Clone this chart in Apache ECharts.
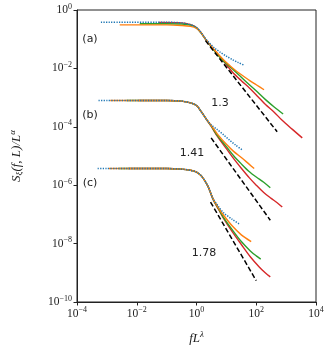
<!DOCTYPE html>
<html>
<head>
<meta charset="utf-8">
<script src="https://cdn.jsdelivr.net/npm/echarts@6/dist/echarts.min.js"></script>
<style>
  html, body { margin: 0; padding: 0; background: #fff; }
  #chart { width: 330px; height: 350px; }
</style>
</head>
<body>
<div id="chart"></div>
<script>
// all values are log10 exponents: [log10(f L^lambda), log10(S / L^alpha)]
const xTicks = [-4, -2, 0, 2, 4]
const yTicks = [-10, -8, -6, -4, -2, 0]

// (a)
const aBlue = [[-3.2, -0.42], [-1, -0.42], [-0.5, -0.44], [-0.2, -0.5], [0, -0.6], [0.15, -0.77], [0.3, -0.98], [0.45, -1.15], [0.6, -1.3], [0.8, -1.45], [1.0, -1.58], [1.2, -1.7], [1.4, -1.8], [1.61, -1.9]]
const aOrange = [[-2.57, -0.51], [-1, -0.51], [-0.5, -0.53], [-0.2, -0.56], [0, -0.63], [0.15, -0.78], [0.3, -1.0], [0.5, -1.25], [0.7, -1.48], [1.0, -1.8], [1.34, -2.1], [1.77, -2.41], [2.0, -2.56], [2.26, -2.73]]
const aGreen = [[-1.9, -0.47], [-1, -0.47], [-0.5, -0.48], [-0.2, -0.52], [0, -0.61], [0.15, -0.78], [0.3, -1.0], [0.6, -1.4], [0.9, -1.75], [1.24, -2.05], [1.5, -2.3], [1.77, -2.56], [2.05, -2.82], [2.31, -3.07], [2.6, -3.32], [2.9, -3.56]]
const aRed = [[-1.26, -0.43], [-0.5, -0.44], [-0.2, -0.5], [0, -0.6], [0.15, -0.77], [0.3, -1.0], [0.6, -1.38], [0.9, -1.75], [1.2, -2.12], [1.5, -2.42], [1.77, -2.67], [2.05, -2.96], [2.31, -3.24], [2.6, -3.5], [2.84, -3.75], [3.2, -4.08], [3.54, -4.38]]
const aFit = [[0.3, -1.05], [2.7, -4.17]]

// (b)
const bBlue = [[-3.28, -3.1], [-1, -3.1], [-0.5, -3.12], [-0.2, -3.18], [0, -3.27], [0.17, -3.5], [0.35, -3.77], [0.49, -3.93], [0.7, -4.1], [0.9, -4.27], [1.1, -4.45], [1.3, -4.62], [1.54, -4.8]]
const bOrange = [[-2.89, -3.1], [-1, -3.1], [-0.5, -3.12], [-0.2, -3.18], [0, -3.27], [0.17, -3.5], [0.35, -3.77], [0.49, -3.95], [0.7, -4.25], [1.0, -4.6], [1.25, -4.85], [1.5, -5.05], [1.75, -5.27], [1.93, -5.43]]
const bGreen = [[-2.35, -3.1], [-1, -3.1], [-0.5, -3.12], [-0.2, -3.18], [0, -3.27], [0.17, -3.5], [0.35, -3.77], [0.49, -3.97], [0.7, -4.3], [1.0, -4.68], [1.25, -5.0], [1.5, -5.27], [1.75, -5.52], [2.0, -5.72], [2.25, -5.9], [2.47, -6.09]]
const bRed = [[-1.95, -3.1], [-1, -3.1], [-0.5, -3.12], [-0.2, -3.18], [0, -3.27], [0.17, -3.5], [0.35, -3.77], [0.49, -3.98], [0.7, -4.33], [1.0, -4.75], [1.25, -5.1], [1.5, -5.42], [1.77, -5.75], [2.0, -6.0], [2.25, -6.25], [2.5, -6.45], [2.7, -6.6], [2.87, -6.75]]
const bFit = [[0.49, -4.38], [2.47, -7.2]]

// (c)
const cBlue = [[-3.31, -5.43], [-1, -5.43], [-0.5, -5.45], [-0.2, -5.49], [0, -5.55], [0.17, -5.69], [0.38, -6.03], [0.55, -6.45], [0.75, -6.75], [0.9, -6.94], [1.2, -7.17], [1.45, -7.34]]
const cOrange = [[-2.93, -5.43], [-1, -5.43], [-0.5, -5.45], [-0.2, -5.49], [0, -5.55], [0.17, -5.69], [0.38, -6.03], [0.55, -6.46], [0.75, -6.8], [0.9, -7.02], [1.2, -7.4], [1.5, -7.7], [1.83, -7.93]]
const cGreen = [[-2.61, -5.43], [-1, -5.43], [-0.5, -5.45], [-0.2, -5.49], [0, -5.55], [0.17, -5.69], [0.38, -6.03], [0.55, -6.47], [0.75, -6.83], [0.9, -7.1], [1.2, -7.53], [1.5, -7.93], [1.8, -8.25], [2.0, -8.42], [2.15, -8.53]]
const cRed = [[-2.29, -5.43], [-1, -5.43], [-0.5, -5.45], [-0.2, -5.49], [0, -5.55], [0.17, -5.69], [0.38, -6.03], [0.55, -6.48], [0.75, -6.85], [0.9, -7.13], [1.2, -7.6], [1.5, -8.03], [1.8, -8.45], [2.1, -8.8], [2.3, -9.0], [2.47, -9.14]]
const cFit = [[0.47, -6.58], [2.0, -9.27]]

const fitLabels = ['1.3', '1.41', '1.78']
const panelLabels = ['(a)', '(b)', '(c)']

const colors = { blue: '#1f77b4', orange: '#ff7f0e', green: '#2ca02c', red: '#d62728' }
// stacking: red at the bottom, blue dotted on top
const layer = { '#d62728': 2, '#2ca02c': 3, '#ff7f0e': 4, '#1f77b4': 5 }

function curve(data, color) {
  return {
    type: 'line',
    data: data,
    showSymbol: false,
    smooth: 0.3,
    lineStyle: color === colors.blue
      ? { color: color, width: 1.5, type: [1.3, 1.3] }
      : { color: color, width: 1.4 },
    z: layer[color]
  }
}

function fit(data) {
  return {
    type: 'line',
    data: data,
    showSymbol: false,
    lineStyle: { color: '#000', width: 1.5, type: [5, 2.5] },
    z: 6
  }
}

function powLabel(v) {
  const e = v === 0 ? '0' : (v < 0 ? '\u2212' + (-v) : String(v))
  return '10{s|' + e + '}'
}

const tickRich = { s: { fontSize: 8, fontFamily: 'Liberation Serif', padding: [0, 0, 7, 0], color: '#222' } }
const mathFont = { fontStyle: 'italic', fontFamily: 'Liberation Serif', color: '#222' }

const chart = echarts.init(document.getElementById('chart'))
chart.setOption({
  animation: false,
  grid: { left: 67, right: 14, top: 10, bottom: 47, show: true, borderColor: '#222', borderWidth: 1 },
  xAxis: {
    type: 'value', min: -4, max: 4, interval: 2,
    axisLine: { onZero: false, lineStyle: { color: '#222', width: 1 } },
    axisTick: { length: 3.5, lineStyle: { color: '#222' } },
    splitLine: { show: false },
    axisLabel: { formatter: powLabel, fontSize: 11.5, fontFamily: 'Liberation Serif', color: '#222', margin: 4, rich: tickRich },
    name: '{i|fL}{s|λ}',
    nameLocation: 'middle', nameGap: 28,
    nameTextStyle: {
      rich: {
        i: Object.assign({ fontSize: 13 }, mathFont),
        s: Object.assign({ fontSize: 9, padding: [0, 0, 8, 0] }, mathFont)
      }
    }
  },
  yAxis: {
    type: 'value', min: -10, max: 0, interval: 2,
    axisLine: { onZero: false, lineStyle: { color: '#222', width: 1 } },
    axisTick: { length: 3.5, lineStyle: { color: '#222' } },
    splitLine: { show: false },
    axisLabel: { formatter: powLabel, fontSize: 11.5, fontFamily: 'Liberation Serif', color: '#222', margin: 5, rich: tickRich },
    name: '{i|S}{b|ξ}{i|(f, L)/L}{s|α}',
    nameLocation: 'middle', nameGap: 52, nameRotate: 90,
    nameTextStyle: {
      rich: {
        i: Object.assign({ fontSize: 13 }, mathFont),
        b: Object.assign({ fontSize: 9, padding: [6, 0, 0, 0] }, mathFont),
        s: Object.assign({ fontSize: 9, padding: [0, 0, 8, 0] }, mathFont)
      }
    }
  },
  series: [
    curve(aBlue, colors.blue), curve(aOrange, colors.orange), curve(aGreen, colors.green), curve(aRed, colors.red), fit(aFit),
    curve(bBlue, colors.blue), curve(bOrange, colors.orange), curve(bGreen, colors.green), curve(bRed, colors.red), fit(bFit),
    curve(cBlue, colors.blue), curve(cOrange, colors.orange), curve(cGreen, colors.green), curve(cRed, colors.red), fit(cFit)
  ],
  graphic: [
    { type: 'text', x: 90, y: 39, style: { text: panelLabels[0], font: '11px "DejaVu Sans"', fill: '#222', align: 'center', verticalAlign: 'middle' } },
    { type: 'text', x: 90, y: 115, style: { text: panelLabels[1], font: '11px "DejaVu Sans"', fill: '#222', align: 'center', verticalAlign: 'middle' } },
    { type: 'text', x: 90, y: 183, style: { text: panelLabels[2], font: '11px "DejaVu Sans"', fill: '#222', align: 'center', verticalAlign: 'middle' } },
    { type: 'text', x: 220, y: 103, style: { text: fitLabels[0], font: '11px "DejaVu Sans"', fill: '#222', align: 'center', verticalAlign: 'middle' } },
    { type: 'text', x: 192, y: 153, style: { text: fitLabels[1], font: '11px "DejaVu Sans"', fill: '#222', align: 'center', verticalAlign: 'middle' } },
    { type: 'text', x: 204, y: 253, style: { text: fitLabels[2], font: '11px "DejaVu Sans"', fill: '#222', align: 'center', verticalAlign: 'middle' } }
  ]
})
</script>
</body>
</html>
